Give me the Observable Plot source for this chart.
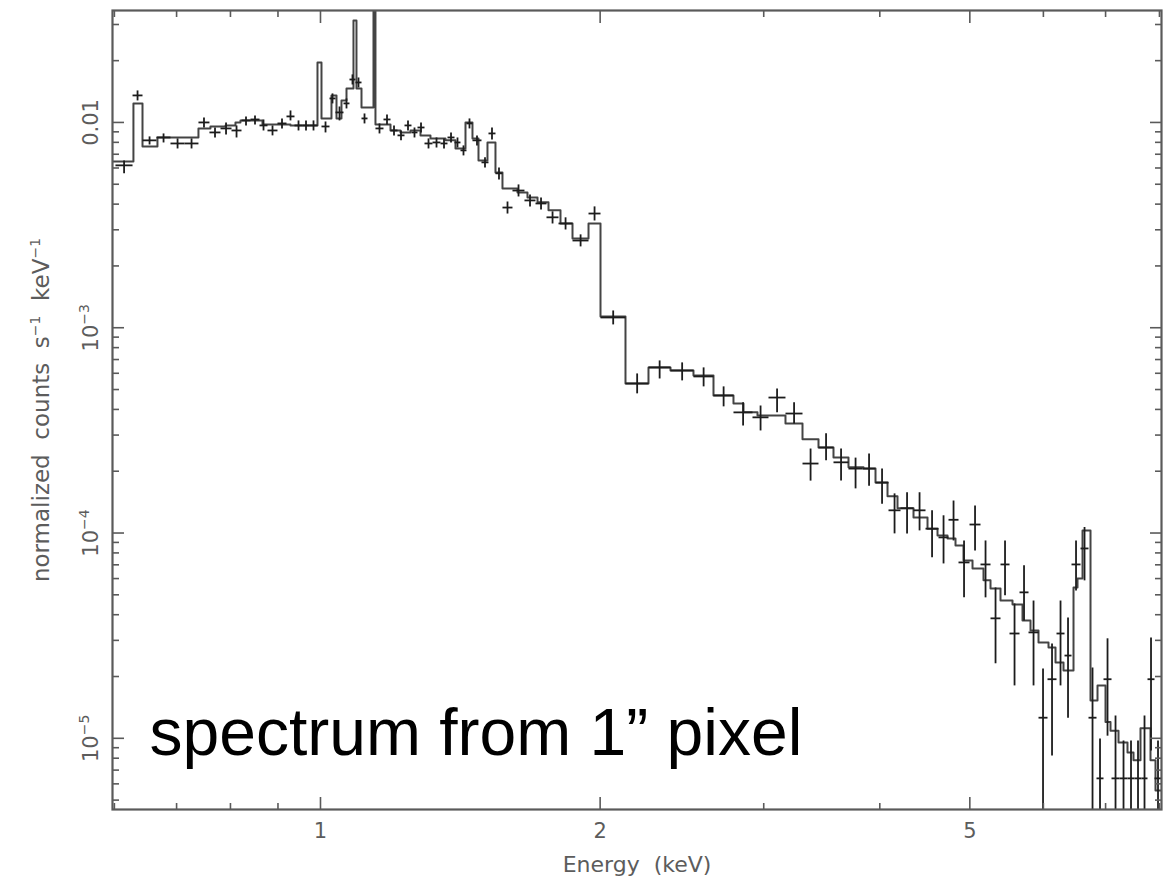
<!DOCTYPE html>
<html><head><meta charset="utf-8">
<script src="https://cdn.jsdelivr.net/npm/d3@7"></script>
<script src="https://cdn.jsdelivr.net/npm/@observablehq/plot@0.6"></script>
<style>
html,body{margin:0;padding:0;background:#fff;}
svg text{white-space:pre;}
</style></head><body><div id="chart"></div>
<script>
// ---- Model (folded) step curve: bin edges (keV) and values (counts s^-1 keV^-1)
const modelEdges = [0.5972,0.6290,0.6433,0.6676,0.7390,0.7613,0.7902,0.8100,0.8201,0.8661,0.8945,0.9283,0.9926,1.0025,1.0276,1.0405,1.0534,1.0666,1.0852,1.0933,1.1070,1.1404,1.1460,1.1895,1.2193,1.2499,1.2813,1.3134,1.3632,1.3974,1.4325,1.4575,1.4794,1.5127,1.5430,1.5700,1.6295,1.6704,1.7124,1.7597,1.8128,1.8676,1.9432,2.0018,2.1297,2.2546,2.3810,2.5206,2.6488,2.7833,2.8532,2.9540,3.1662,3.3026,3.4362,3.5663,3.7014,3.8417,3.9577,4.0772,4.1795,4.3486,4.5022,4.6151,4.7310,4.8256,4.9224,5.0334,5.1724,5.2630,5.3950,5.5579,5.6974,5.8115,5.9279,6.0767,6.1831,6.3068,6.4652,6.5296,6.6111,6.7434,6.8613,6.9988,7.0860,7.2279,7.3908,7.5016,7.6328,7.8245,7.9220,8.0407];
const modelValues = [0.00646,0.01238,0.00764,0.00845,0.00935,0.00956,0.00967,0.0100,0.01023,0.00978,
0.00978,0.00967,0.0196,0.01046,0.01354,0.01046,0.0128,0.01465,0.03139,0.01465,
0.01183,0.06,0.00978,0.00914,0.00894,0.00914,0.00865,0.00836,0.00818,0.00747,
0.0100,0.00836,0.00653,0.00799,0.00571,0.00477,0.00456,0.00431,0.00408,0.00373,
0.00322,0.00272,0.00322,0.001135,0.000535,0.000641,0.000619,0.000586,0.000468,0.000428,
0.000387,0.000374,0.000342,0.000286,0.000261,0.000233,0.000209,0.000206,0.000176,0.000151,
0.000132,0.000119,0.000105,9.73e-5,9.41e-5,8.70e-5,7.35e-5,6.72e-5,5.88e-5,5.37e-5,
4.69e-5,4.49e-5,3.75e-5,3.35e-5,2.93e-5,2.77e-5,2.34e-5,2.14e-5,5.43e-5,6.01e-5,
0.000103,1.53e-5,1.81e-5,1.20e-5,1.09e-5,9.55e-6,8.54e-6,7.81e-6,1.12e-5,7.81e-6,5.57e-6];

// ---- Data points: channel bin low / high energy (keV), value, error bar low / high
const dataLo = [0.6016,0.6276,0.6433,0.6660,0.6895,0.7139,0.7390,0.7594,0.7805,0.8021,
0.8222,0.8407,0.8597,0.8769,0.8989,0.9192,0.9376,0.9564,0.9731,1.0025,
1.0226,1.0379,1.0587,1.0745,1.0906,1.1070,1.1460,1.1690,1.1895,1.2103,
1.2315,1.2530,1.2718,1.2941,1.3200,1.3464,1.3700,1.3940,1.4148,1.4360,
1.4575,1.4904,1.5165,1.5430,1.5700,1.6094,1.6580,1.7039,1.7510,1.8039,
1.8676,1.9432,2.0018,2.1297,2.2546,2.3810,2.5206,2.6488,2.7833,2.9176,
3.0356,3.1662,3.3026,3.4362,3.5663,3.7014,3.8322,3.9577,4.0873,4.2107,
4.3486,4.4799,4.6266,4.7427,4.8617,4.9961,5.1341,5.2630,5.3950,5.5168,
5.6552,5.7828,5.9279,6.0616,6.1984,6.3225,6.4332,6.5783,6.7100,6.8443,
6.9641,7.1036,7.2459,7.3908,7.5202,7.6518,7.7665,7.9024];
const dataHi = [0.6276,0.6433,0.6660,0.6895,0.7139,0.7390,0.7594,0.7805,0.8021,0.8222,
0.8407,0.8597,0.8769,0.8989,0.9192,0.9376,0.9564,0.9731,0.9926,1.0226,
1.0379,1.0587,1.0745,1.0906,1.1070,1.1236,1.1690,1.1895,1.2103,1.2315,
1.2530,1.2718,1.2941,1.3200,1.3464,1.3700,1.3940,1.4148,1.4360,1.4575,
1.4904,1.5165,1.5430,1.5700,1.6094,1.6580,1.7039,1.7510,1.8039,1.8676,
1.9432,2.0018,2.1297,2.2546,2.3810,2.5206,2.6488,2.7833,2.9176,3.0356,
3.1662,3.3026,3.4362,3.5663,3.7014,3.8322,3.9577,4.0873,4.2107,4.3486,
4.4799,4.6266,4.7427,4.8617,4.9961,5.1341,5.2630,5.3950,5.5168,5.6552,
5.7828,5.9279,6.0616,6.1984,6.3225,6.4332,6.5783,6.7100,6.8443,6.9641,
7.1036,7.2459,7.3908,7.5202,7.6518,7.7665,7.9024,8.0407];
const dataY = [0.00618,0.01354,0.00818,0.00845,0.00790,0.00790,0.0100,0.00894,0.00935,0.00914,
0.01023,0.01034,0.00967,0.00914,0.00989,0.0107,0.00967,0.00967,0.00967,0.00956,
0.01309,0.01119,0.01238,0.01619,0.01566,0.01046,0.00935,0.01034,0.00914,0.00865,
0.00967,0.00894,0.00945,0.00790,0.00799,0.00790,0.00845,0.00799,0.00731,0.00989,
0.00818,0.00639,0.00884,0.00565,0.00385,0.00466,0.00417,0.00403,0.00345,0.00322,
0.00266,0.00360,0.001122,0.000535,0.000641,0.000619,0.000579,0.000468,0.000387,0.000366,
0.000457,0.000382,0.000218,0.000261,0.000221,0.000206,0.000206,0.000176,0.000129,0.000132,
0.000129,0.000105,9.52e-5,0.000116,7.19e-5,0.00011,7.03e-5,3.84e-5,7.03e-5,3.24e-5,
5.14e-5,3.28e-5,1.26e-5,1.94e-5,3.24e-5,2.53e-5,7.03e-5,8.41e-5,1.26e-5,6.38e-6,
1.94e-5,6.38e-6,6.38e-6,6.38e-6,6.38e-6,6.38e-6,1.94e-5,6.38e-6];
const dataYhi = [0.00653,0.01432,0.00855,0.00884,0.00836,0.00836,0.01058,0.00945,0.0100,0.00967,
0.0107,0.01082,0.01034,0.00967,0.01046,0.01144,0.01023,0.01023,0.01023,0.01011,
0.01385,0.01196,0.01309,0.01714,0.01656,0.01106,0.00989,0.01094,0.00967,0.00914,
0.01023,0.00945,0.0100,0.00836,0.00845,0.00836,0.00894,0.00845,0.00773,0.01046,
0.00865,0.00676,0.00945,0.00604,0.00412,0.00499,0.00446,0.00431,0.00369,0.00345,
0.00285,0.0039,0.001214,0.000599,0.000693,0.000678,0.000641,0.000518,0.000433,0.000418,
0.000506,0.000433,0.000258,0.000306,0.000258,0.000233,0.000244,0.000206,0.000156,0.000158,
0.000158,0.000129,0.000122,0.000144,9.2e-5,0.000136,9.2e-5,5.43e-5,9.2e-5,4.54e-5,
6.96e-5,4.69e-5,2.19e-5,2.9e-5,4.69e-5,3.88e-5,9.2e-5,0.000107,2.21e-5,9.99e-6,
3.07e-5,1.29e-5,9.77e-6,9.77e-6,9.77e-6,1.29e-5,3.1e-5,9.77e-6];
const dataYlo = [0.00565,0.0128,0.00781,0.00799,0.00747,0.00747,0.00945,0.00845,0.00874,0.00845,
0.00967,0.00978,0.00914,0.00865,0.00935,0.01023,0.00914,0.00914,0.00914,0.00894,
0.01238,0.01023,0.0117,0.01531,0.01481,0.00989,0.00884,0.00978,0.00865,0.00818,
0.00914,0.00845,0.00894,0.00747,0.00755,0.00747,0.00799,0.00755,0.00691,0.00935,
0.00773,0.00604,0.00827,0.00528,0.0036,0.00436,0.0039,0.00377,0.00322,0.00301,
0.00249,0.00333,0.001038,0.000479,0.000566,0.000554,0.000518,0.000414,0.000334,0.000316,
0.000387,0.000342,0.00018,0.000226,0.00018,0.000165,0.00017,0.000139,9.96e-5,9.96e-5,
0.000103,7.61e-5,7.11e-5,9.2e-5,4.86e-5,8.23e-5,4.86e-5,2.32e-5,4.97e-5,1.81e-5,
3.75e-5,1.81e-5,1e-7,8.25e-6,1.81e-5,1.26e-5,5.25e-5,5.88e-5,1e-7,1e-7,
1.03e-5,1e-7,1e-7,1e-7,1e-7,1e-7,8.73e-6,1e-7];

// ---- Axes
const xDomain = [0.5972, 8.0407];
const yDomain = [4.5e-6, 0.0351];
const xMajorTicks = [1, 2, 5];
const xTickLabels = ["1", "2", "5"];
const xMinorTicks = [0.6, 0.7, 0.8, 0.9, 3, 4, 6, 7, 8];
const yMajorTicks = [1e-5, 1e-4, 1e-3, 1e-2];
// "^{...}" marks a superscript
const yTickLabels = ["10^{\u22125}", "10^{\u22124}", "10^{\u22123}", "0.01"];
const yMinorTicks = [5e-6,6e-6,7e-6,8e-6,9e-6,
  2e-5,3e-5,4e-5,5e-5,6e-5,7e-5,8e-5,9e-5,
  2e-4,3e-4,4e-4,5e-4,6e-4,7e-4,8e-4,9e-4,
  2e-3,3e-3,4e-3,5e-3,6e-3,7e-3,8e-3,9e-3,
  0.02,0.03];
const xTitle = "Energy  (keV)";
const yTitle = "normalized  counts  s^{\u22121}  keV^{\u22121}";
const annotation = "spectrum from 1\u201D pixel";

// ---- Build tables
const modelPts = [];
modelValues.forEach((v, i) => {
  modelPts.push({e: modelEdges[i], v});
  modelPts.push({e: modelEdges[i + 1], v});
});
const rows = dataY.map((y, i) => ({
  lo: dataLo[i], hi: dataHi[i], mid: (dataLo[i] + dataHi[i]) / 2,
  y, ylo: dataYlo[i], yhi: dataYhi[i]
}));
const xLab = xMajorTicks.map((t, i) => ({t, s: xTickLabels[i]}));
const yLab = yMajorTicks.map((t, i) => ({t, s: yTickLabels[i]}));

const axisCol = "#5a5a5a";
const textCol = "#5c5c5c";
const noText = () => "";

const chart = Plot.plot({
  width: 1176, height: 877,
  marginLeft: 112, marginRight: 15, marginTop: 10, marginBottom: 68,
  style: {fontFamily: "'DejaVu Sans', sans-serif", background: "#fff", overflow: "visible"},
  x: {type: "log", domain: xDomain, axis: null, label: null},
  y: {type: "log", domain: yDomain, axis: null, label: null},
  marks: [
    Plot.line(modelPts, {x: "e", y: "v", stroke: "#444", strokeWidth: 2, clip: true}),
    Plot.link(rows, {x1: "lo", x2: "hi", y1: "y", y2: "y", stroke: "#1c1c1c", strokeWidth: 1.8, clip: true}),
    Plot.link(rows, {x1: "mid", x2: "mid", y1: "ylo", y2: "yhi", stroke: "#1c1c1c", strokeWidth: 1.8, clip: true}),
    // inward ticks on all four sides
    Plot.axisX({anchor: "bottom", ticks: xMajorTicks, tickSize: -12, tickFormat: noText, label: null, stroke: axisCol, strokeWidth: 1.6}),
    Plot.axisX({anchor: "bottom", ticks: xMinorTicks, tickSize: -6, tickFormat: noText, label: null, stroke: axisCol, strokeWidth: 1.6}),
    Plot.axisX({anchor: "top", ticks: xMajorTicks, tickSize: -12, tickFormat: noText, label: null, stroke: axisCol, strokeWidth: 1.6}),
    Plot.axisX({anchor: "top", ticks: xMinorTicks, tickSize: -6, tickFormat: noText, label: null, stroke: axisCol, strokeWidth: 1.6}),
    Plot.axisY({anchor: "left", ticks: yMajorTicks, tickSize: -12, tickFormat: noText, label: null, stroke: axisCol, strokeWidth: 1.6}),
    Plot.axisY({anchor: "left", ticks: yMinorTicks, tickSize: -7, tickFormat: noText, label: null, stroke: axisCol, strokeWidth: 1.6}),
    Plot.axisY({anchor: "right", ticks: yMajorTicks, tickSize: -12, tickFormat: noText, label: null, stroke: axisCol, strokeWidth: 1.6}),
    Plot.axisY({anchor: "right", ticks: yMinorTicks, tickSize: -7, tickFormat: noText, label: null, stroke: axisCol, strokeWidth: 1.6}),
    Plot.frame({stroke: axisCol, strokeWidth: 2.2}),
    // tick labels
    Plot.text(xLab, {x: "t", text: "s", frameAnchor: "bottom", dy: 14, lineAnchor: "top", fontSize: 21, fill: textCol}),
    Plot.text(yLab, {y: "t", text: "s", frameAnchor: "left", dx: -15, rotate: -90, lineAnchor: "bottom", textAnchor: "middle", fontSize: 21, fill: textCol, className: "rich"}),
    // axis titles
    Plot.text([xTitle], {text: d => d, frameAnchor: "bottom", dy: 62, lineAnchor: "bottom", fontSize: 22, fill: textCol}),
    Plot.text([yTitle], {text: d => d, frameAnchor: "left", dx: -64, rotate: -90, lineAnchor: "bottom", textAnchor: "middle", fontSize: 23, fill: textCol, className: "rich"}),
    // annotation
    Plot.text([annotation], {text: d => d, frameAnchor: "bottom-left", dx: 37, dy: -55, lineAnchor: "bottom", textAnchor: "start",
      fontSize: 66, fill: "#000", fontFamily: "'Liberation Sans', Arial, sans-serif"})
  ]
});

// turn "^{...}" into real superscript tspans
const NS = "http://www.w3.org/2000/svg";
chart.querySelectorAll("g.rich text").forEach(t => {
  const src = t.textContent;
  if (!src.includes("^{")) return;
  const fs = parseFloat(getComputedStyle(t).fontSize) || 20;
  const supFs = fs * 0.7, rise = fs * 0.45;
  while (t.firstChild) t.removeChild(t.firstChild);
  const parts = src.split(/(\^\{[^}]*\})/).filter(p => p.length);
  let raised = false;
  parts.forEach(p => {
    const ts = document.createElementNS(NS, "tspan");
    if (p.startsWith("^{")) {
      ts.textContent = p.slice(2, -1);
      ts.setAttribute("font-size", supFs);
      ts.setAttribute("dy", raised ? 0 : -rise);
      raised = true;
    } else {
      ts.textContent = p;
      if (raised) { ts.setAttribute("dy", rise); raised = false; }
    }
    t.appendChild(ts);
  });
});
document.getElementById("chart").appendChild(chart);
</script>
</body></html>
